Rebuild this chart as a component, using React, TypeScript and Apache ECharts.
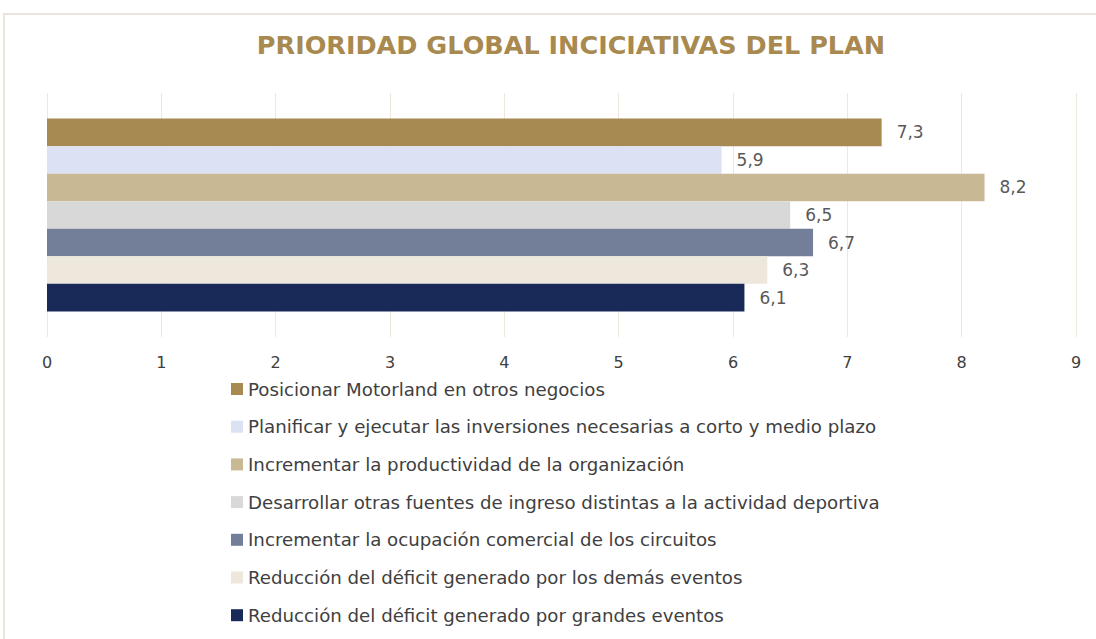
import React, { useEffect, useRef } from "react";
import * as echarts from "echarts";

const titleText = "PRIORIDAD GLOBAL INCICIATIVAS DEL PLAN";
const seriesNames = [
  "Posicionar Motorland en otros negocios",
  "Planificar y ejecutar las inversiones necesarias a corto y medio plazo",
  "Incrementar la productividad de la organización",
  "Desarrollar otras fuentes de ingreso distintas a la actividad deportiva",
  "Incrementar la ocupación comercial de los circuitos",
  "Reducción del déficit generado por los demás eventos",
  "Reducción del déficit generado por grandes eventos",
];
const seriesValues = [7.3, 5.9, 8.2, 6.5, 6.7, 6.3, 6.1];
const seriesColors = ["#A78A52", "#DCE1F4", "#C9B894", "#D8D8D8", "#737E99", "#EDE7DC", "#192A58"];
const categories = [""];

const FONT = "'DejaVu Sans', 'Open Sans', sans-serif";

export default function App() {
  const ref = useRef<HTMLDivElement>(null);
  useEffect(() => {
    if (!ref.current) return;
    const chart = echarts.init(ref.current, null, { renderer: "svg" });
    chart.setOption({
      animation: false,
      backgroundColor: "#ffffff",
      title: {
        text: titleText,
        left: 571,
        top: 32,
        padding: 0,
        textAlign: "center",
        textStyle: { color: "#A8894F", fontSize: 25.5, fontWeight: "bold", fontFamily: FONT },
      },
      graphic: [
        {
          type: "rect",
          shape: { x: 4, y: 14, width: 1200, height: 800 },
          style: { fill: "none", stroke: "#EAE5DA", lineWidth: 2 },
          silent: true,
        },
      ],
      legend: {
        orient: "vertical",
        left: 231,
        top: 379,
        padding: 0,
        itemWidth: 12,
        itemHeight: 12,
        itemGap: 17.7,
        icon: "rect",
        data: seriesNames,
        textStyle: { color: "#404040", fontSize: 18.2, fontFamily: FONT, lineHeight: 20 },
      },
      grid: { left: 47, right: 20, top: 93, bottom: 302, containLabel: false },
      xAxis: {
        type: "value",
        min: 0,
        max: 9,
        interval: 1,
        axisLine: { show: false },
        axisTick: { show: false },
        axisLabel: { color: "#404040", fontSize: 16, fontFamily: FONT, margin: 17 },
        splitLine: { show: true, lineStyle: { color: "#EEE7DC", width: 1 } },
      },
      yAxis: {
        type: "category",
        data: categories,
        inverse: true,
        axisLine: { show: false },
        axisTick: { show: false },
        axisLabel: { show: false },
        splitLine: { show: false },
      },
      series: seriesNames.map((name, i) => ({
        type: "bar",
        name,
        data: [seriesValues[i]],
        itemStyle: { color: seriesColors[i] },
        barGap: "0%",
        barCategoryGap: "21%",
        label: {
          show: true,
          position: "right",
          distance: 15,
          color: "#595959",
          fontSize: 17,
          fontFamily: FONT,
          formatter: (p: any) => String(p.value).replace(".", ","),
        },
      })),
    });
    return () => chart.dispose();
  }, []);
  return <div ref={ref} style={{ position: "absolute", left: 0, top: 0, width: 1096, height: 639 }} />;
}
